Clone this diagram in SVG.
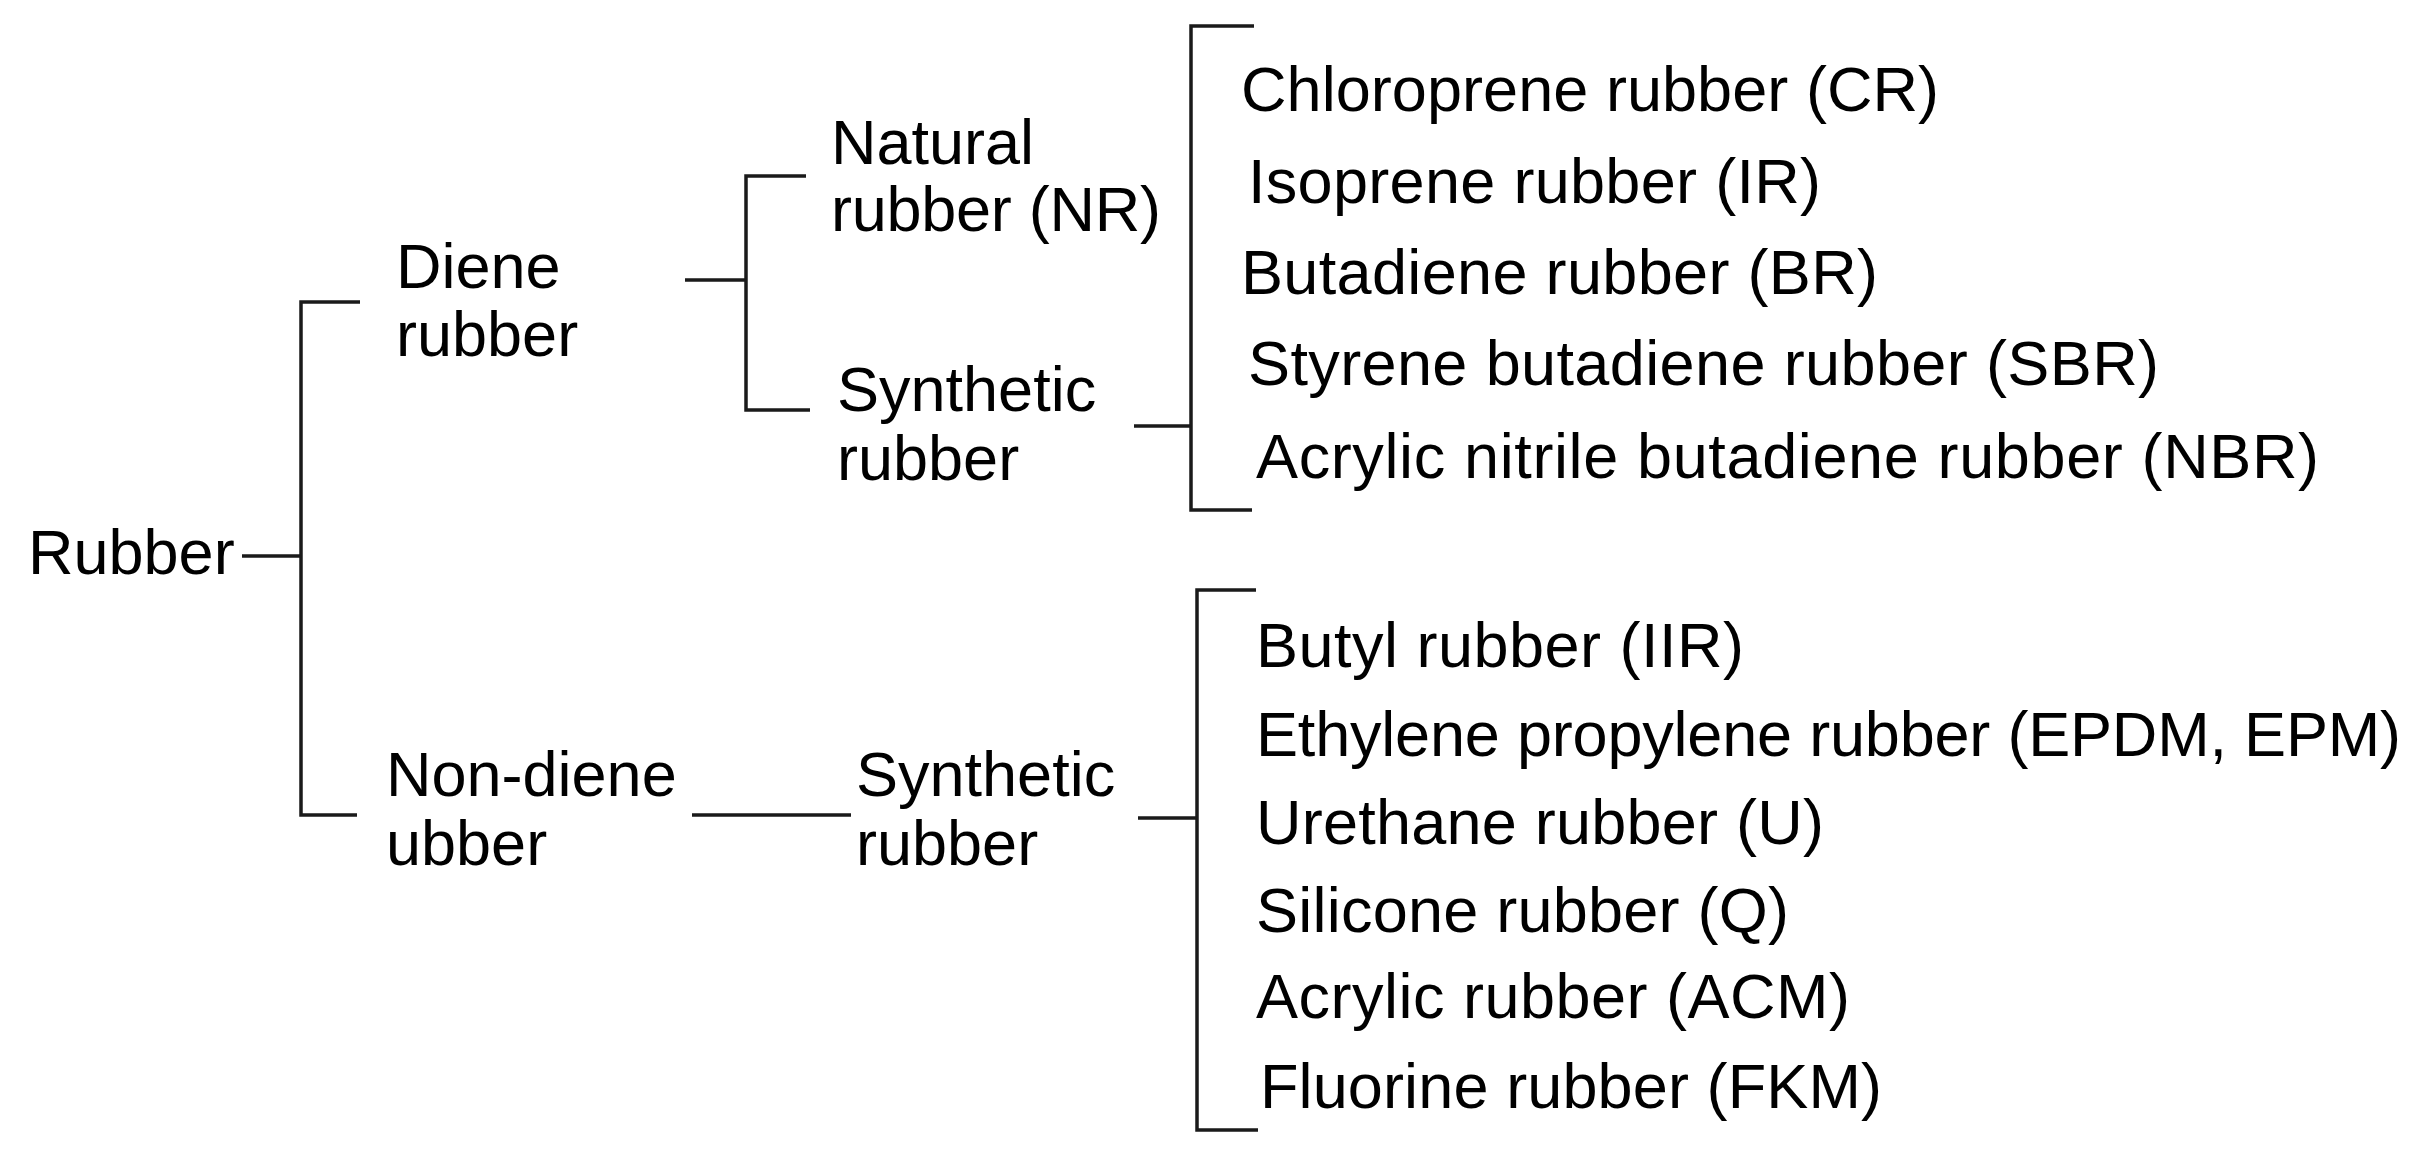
<svg xmlns="http://www.w3.org/2000/svg" width="2427" height="1164" viewBox="0 0 2427 1164">
<style>
text{font-family:"Liberation Sans",Arial,sans-serif;font-size:63px;fill:#000}
.c{fill:none;stroke:#1a1a1a;stroke-width:3.5;stroke-linecap:butt}
</style>
<rect width="2427" height="1164" fill="#fff"/>
<g id="connectors" class="c">
<path d="M242,556H301M360,302H301V815H357"/>
<path d="M685,280H746M806,176H746V410H810"/>
<path d="M1134,426H1191M1254,26H1191V510H1252"/>
<path d="M692,815H851"/>
<path d="M1138,818H1197M1256,590H1197V1130H1258"/>
</g>
<g id="n-rubber"><text x="28" y="574">Rubber</text></g>
<g id="n-diene"><text x="396" y="288">Diene</text><text x="396" y="356">rubber</text></g>
<g id="n-nondiene"><text x="386" y="796">Non-diene</text><text x="386" y="865">ubber</text></g>
<g id="n-natural"><text x="831" y="164">Natural</text><text x="831" y="231" textLength="330" lengthAdjust="spacing">rubber (NR)</text></g>
<g id="n-synth1"><text x="837" y="411">Synthetic</text><text x="837" y="480">rubber</text></g>
<g id="n-synth2"><text x="856" y="796">Synthetic</text><text x="856" y="865">rubber</text></g>
<g id="n-list1">
<text x="1241" y="111" textLength="698" lengthAdjust="spacing">Chloroprene rubber (CR)</text>
<text x="1248" y="203" textLength="573" lengthAdjust="spacing">Isoprene rubber (IR)</text>
<text x="1241" y="294" textLength="637" lengthAdjust="spacing">Butadiene rubber (BR)</text>
<text x="1248" y="385" textLength="911" lengthAdjust="spacing">Styrene butadiene rubber (SBR)</text>
<text x="1256" y="478" textLength="1063" lengthAdjust="spacing">Acrylic nitrile butadiene rubber (NBR)</text>
</g>
<g id="n-list2">
<text x="1256" y="667" textLength="488" lengthAdjust="spacing">Butyl rubber (IIR)</text>
<text x="1256" y="756" textLength="1145" lengthAdjust="spacing">Ethylene propylene rubber (EPDM, EPM)</text>
<text x="1256" y="844" textLength="568" lengthAdjust="spacing">Urethane rubber (U)</text>
<text x="1256" y="932" textLength="533" lengthAdjust="spacing">Silicone rubber (Q)</text>
<text x="1256" y="1018" textLength="594" lengthAdjust="spacing">Acrylic rubber (ACM)</text>
<text x="1260" y="1108" textLength="622" lengthAdjust="spacing">Fluorine rubber (FKM)</text>
</g>
</svg>
